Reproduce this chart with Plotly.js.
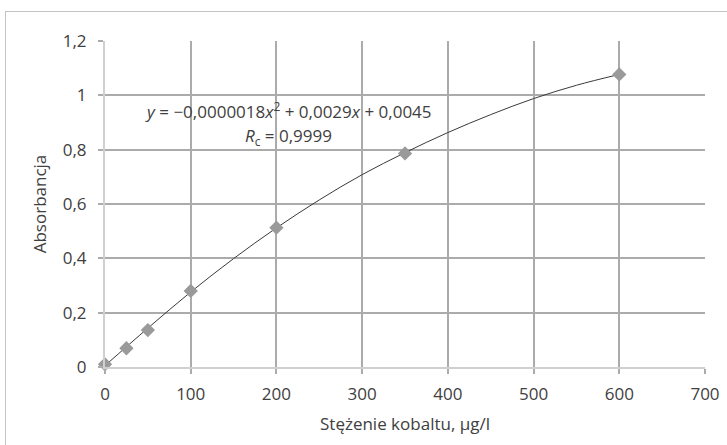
<!DOCTYPE html>
<html>
<head>
<meta charset="utf-8">
<script src="https://cdn.plot.ly/plotly-3.0.1.min.js"></script>
<style>
  html, body { margin: 0; padding: 0; background: #ffffff; overflow: hidden; }
  #wrap { position: relative; width: 727px; height: 445px; }
  #frame { position: absolute; left: 5px; top: 11px; width: 800px; height: 500px;
           border-left: 1px solid #c4c4c4; border-top: 1px solid #c4c4c4; pointer-events: none; }
  #chart { position: absolute; left: 0; top: 0; width: 727px; height: 445px; }
</style>
</head>
<body>
<div id="wrap">
  <div id="chart"></div>
  <div id="frame"></div>
</div>
<script>
// Measured points (concentration µg/l, absorbance)
const concentration = [0, 25, 50, 100, 200, 350, 600];
const absorbance    = [0.01, 0.069, 0.136, 0.28, 0.513, 0.786, 1.077];

// Trend curve
const curveX = [0, 50, 100, 150, 200, 250, 300, 350, 400, 450, 500, 550, 600];
const curveY = [0.005, 0.143, 0.276, 0.399, 0.512, 0.615, 0.708, 0.789, 0.863, 0.929, 0.988, 1.037, 1.077];

const xTickVals = [0, 100, 200, 300, 400, 500, 600, 700];
const xTickText = ["0", "100", "200", "300", "400", "500", "600", "700"];
const yTickVals = [0, 0.2, 0.4, 0.6, 0.8, 1, 1.2];
const yTickText = ["0", "0,2", "0,4", "0,6", "0,8", "1", "1,2"];

const eqLine1 = "<i>y</i> = −0,0000018<i>x</i><sup>2</sup> + 0,0029<i>x</i> + 0,0045";
const eqLine2 = "<i>R</i><sub>c</sub> = 0,9999";

const font = "'Open Sans', 'Noto Sans', sans-serif";
const gridCol = "#ababab";

const traces = [
  {
    x: curveX, y: curveY, type: "scatter", mode: "lines",
    line: { color: "#3a3a3a", width: 1, shape: "spline", smoothing: 1 },
    hoverinfo: "skip", showlegend: false
  },
  {
    x: concentration, y: absorbance, type: "scatter", mode: "markers",
    marker: { symbol: "diamond", size: 11, color: "#9a9a9a" },
    cliponaxis: false, showlegend: false
  }
];

const layout = {
  width: 727, height: 445,
  margin: { l: 105, r: 22, t: 41, b: 78 },
  paper_bgcolor: "rgba(0,0,0,0)", plot_bgcolor: "#ffffff",
  font: { family: font, size: 16, color: "#404040" },
  showlegend: false,
  xaxis: {
    range: [0, 700], tickvals: xTickVals, ticktext: xTickText,
    showgrid: true, gridcolor: gridCol, gridwidth: 2,
    zeroline: false, showline: true, linecolor: "#d0d0d0", linewidth: 2,
    ticks: "outside", ticklen: 5, tickcolor: gridCol, tickwidth: 2,
    ticklabelstandoff: 6,
    tickfont: { family: font, size: 17, color: "#404040" },
    title: { text: "Stężenie kobaltu, µg/l", font: { family: font, size: 17, color: "#404040" }, standoff: 14 }
  },
  yaxis: {
    range: [0, 1.2], tickvals: yTickVals, ticktext: yTickText,
    showgrid: true, gridcolor: gridCol, gridwidth: 2,
    zeroline: false, showline: true, linecolor: "#d0d0d0", linewidth: 2,
    ticks: "outside", ticklen: 5, tickcolor: gridCol, tickwidth: 2,
    ticklabelstandoff: 8,
    tickfont: { family: font, size: 17, color: "#404040" },
    title: { text: "Absorbancja", font: { family: font, size: 17, color: "#404040" }, standoff: 12 }
  },
  annotations: [
    { xref: "paper", yref: "paper", x: 0.305, y: 0.787, xanchor: "center", yanchor: "middle",
      text: eqLine1, showarrow: false, font: { family: font, size: 17, color: "#404040" } },
    { xref: "paper", yref: "paper", x: 0.305, y: 0.707, xanchor: "center", yanchor: "middle",
      text: eqLine2, showarrow: false, font: { family: font, size: 17, color: "#404040" } }
  ]
};

Plotly.newPlot("chart", traces, layout, { displayModeBar: false, staticPlot: true });
</script>
</body>
</html>
